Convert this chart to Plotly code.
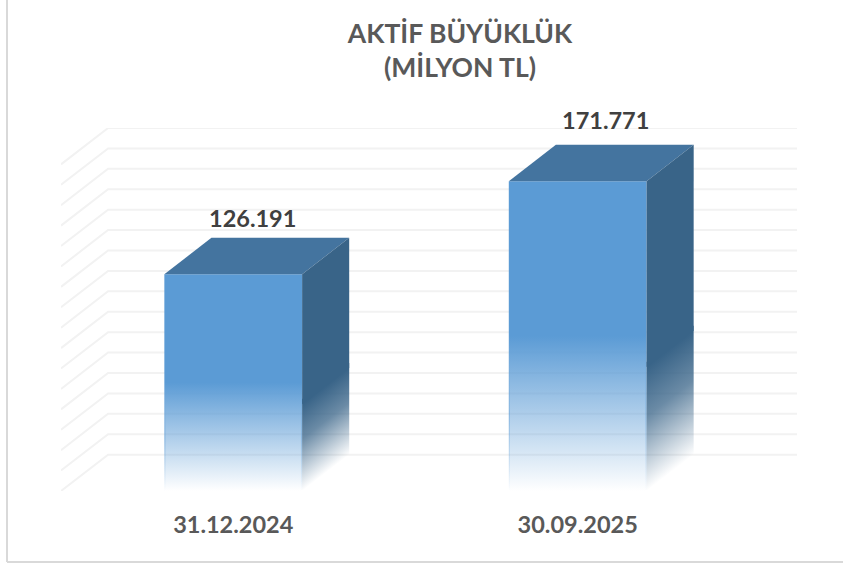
import plotly.graph_objects as go

# ---- data ----
categories = ["31.12.2024", "30.09.2025"]
values = [126191, 171771]
value_labels = ["126.191", "171.771"]
title_lines = ["AKTİF BÜYÜKLÜK", "(MİLYON TL)"]
grid_values = list(range(20000, 190000, 10000))

# ---- style / geometry ----
W, H = 843, 565
ML, MR, MT, MB = 61, 46, 128, 74
BAR_HALF = 0.2          # half bar width, category units
DEPTH_X = 0.1367        # 3D depth, category units
DEPTH_Y = 17800         # 3D depth, value units
Y_MIN = 20000
X_MIN = -0.5
X_MAX = 1.5 + DEPTH_X
FRONT = (91, 155, 213)
SIDE = (57, 100, 136)
TOP = "#44749f"
GRID = "#f2f2f2"
FADE = 0.5              # front face is solid above this height fraction
SIDE_FADE = 0.4         # side face is solid above this height fraction
OVERLAP = 2500          # fade columns reach this far under the solid part
EDGE_W = 0.0035         # faint edge line of the faded front face, category units
LABEL_SHIFT_X = [19, 28]
LABEL_SHIFT_Y = [20, 25]

px_per_x = (W - ML - MR) / (X_MAX - X_MIN)


def rgba(c, a):
    return f"rgba({c[0]},{c[1]},{c[2]},{a})"


fig = go.Figure()

# gridlines on walls
gx, gy = [], []
for g in grid_values:
    gx += [X_MIN, X_MIN + DEPTH_X, X_MAX, None]
    gy += [g, g + DEPTH_Y, g + DEPTH_Y, None]
fig.add_trace(go.Scatter(x=gx, y=gy, mode="lines", line=dict(color=GRID, width=2),
                         cliponaxis=False, hoverinfo="skip", showlegend=False))

for i, v in enumerate(values):
    x0, x1 = i - BAR_HALF, i + BAR_HALF
    mid = Y_MIN + (v - Y_MIN) * FADE
    side_mid = Y_MIN + (v - Y_MIN) * SIDE_FADE

    # front face, vertical fade
    fig.add_trace(go.Scatter(
        x=[x0, x1, x1, x0, x0], y=[Y_MIN, Y_MIN, v, v, Y_MIN], mode="lines",
        fill="toself", line=dict(width=0), hoverinfo="skip", showlegend=False,
        fillcolor=rgba(FRONT, 1),
        fillgradient=dict(type="vertical", start=Y_MIN, stop=v, colorscale=[
            [0, rgba(FRONT, 0)], [FADE, rgba(FRONT, 1)], [1, rgba(FRONT, 1)]]),
    ))

    # faint edge lines on the faded part of the front face
    for ex in (x0, x1 - EDGE_W):
        fig.add_trace(go.Scatter(
            x=[ex, ex + EDGE_W, ex + EDGE_W, ex, ex], y=[Y_MIN, Y_MIN, mid, mid, Y_MIN],
            mode="lines", fill="toself", line=dict(width=0), hoverinfo="skip", showlegend=False,
            fillcolor=rgba(FRONT, 0.3),
            fillgradient=dict(type="vertical", start=Y_MIN, stop=mid, colorscale=[
                [0, rgba(FRONT, 0)], [0.5, rgba(FRONT, 0.4)], [1, rgba(FRONT, 0)]]),
        ))

    # top face
    fig.add_trace(go.Scatter(
        x=[x0, x1, x1 + DEPTH_X, x0 + DEPTH_X, x0],
        y=[v, v, v + DEPTH_Y, v + DEPTH_Y, v], mode="lines", fill="toself",
        fillcolor=TOP, line=dict(width=0), hoverinfo="skip", showlegend=False))

    # side face: solid upper part
    fig.add_trace(go.Scatter(
        x=[x1, x1 + DEPTH_X, x1 + DEPTH_X, x1, x1],
        y=[side_mid, side_mid + DEPTH_Y, v + DEPTH_Y, v, side_mid], mode="lines", fill="toself",
        fillcolor=rgba(SIDE, 1), line=dict(width=0), hoverinfo="skip", showlegend=False))

    # side face: sheared fade, built from pixel-aligned columns
    px0 = ML + (x1 - X_MIN) * px_per_x
    px1 = ML + (x1 + DEPTH_X - X_MIN) * px_per_x
    edges = [px0] + [p for p in range(int(px0) + 1, int(px1) + 1)] + [px1]
    for a, b in zip(edges[:-1], edges[1:]):
        if b <= a:
            continue
        xa = X_MIN + (a - ML) / px_per_x
        xb = X_MIN + (b - ML) / px_per_x
        t = ((xa + xb) / 2 - x1) / DEPTH_X
        lo, hi = Y_MIN + t * DEPTH_Y, side_mid + t * DEPTH_Y
        top = hi + OVERLAP
        solid = (hi - lo) / (top - lo)
        fig.add_trace(go.Scatter(
            x=[xa, xb, xb, xa, xa], y=[lo, lo, top, top, lo], mode="lines", fill="toself",
            line=dict(width=0), hoverinfo="skip", showlegend=False,
            fillcolor=rgba(SIDE, 1),
            fillgradient=dict(type="vertical", start=lo, stop=top, colorscale=[
                [0, rgba(SIDE, 0)], [solid * 0.6, rgba(SIDE, 0.75)],
                [solid, rgba(SIDE, 1)], [1, rgba(SIDE, 1)]]),
        ))

# value labels
annotations = [
    dict(x=i, y=v + DEPTH_Y, text=f"<b>{value_labels[i]}</b>", showarrow=False,
         xshift=LABEL_SHIFT_X[i], yshift=LABEL_SHIFT_Y[i],
         font=dict(family="Lato", size=23.5, color="#404040"))
    for i, v in enumerate(values)
]

# chart frame
plot_w, plot_h = W - ML - MR, H - MT - MB
frame_x = (7 - ML) / plot_w
frame_y = (H - MB - 562) / plot_h
shapes = [
    dict(type="line", xref="paper", yref="paper", x0=frame_x, x1=frame_x,
         y0=frame_y, y1=(H - MB) / plot_h, line=dict(color="#d9d9d9", width=2)),
    dict(type="line", xref="paper", yref="paper", x0=frame_x, x1=(W - ML) / plot_w,
         y0=frame_y, y1=frame_y, line=dict(color="#d9d9d9", width=2)),
]

fig.update_layout(
    width=W, height=H, autosize=False,
    margin=dict(l=ML, r=MR, t=MT, b=MB, pad=0),
    paper_bgcolor="white", plot_bgcolor="white",
    showlegend=False,
    title=dict(text="<b>" + "<br>".join(title_lines) + "</b>", xref="paper", yref="container",
               x=(460 - ML) / plot_w, xanchor="center", y=1 - 43 / H, yanchor="middle",
               font=dict(family="Lato", size=26.5, color="#595959")),
    xaxis=dict(range=[X_MIN, X_MAX], tickmode="array", tickvals=[0, 1],
               ticktext=[f"<b>{c}</b>" for c in categories],
               tickfont=dict(family="Lato", size=23.5, color="#595959"),
               ticks="outside", ticklen=13, tickcolor="rgba(0,0,0,0)",
               showgrid=False, zeroline=False, showline=False, fixedrange=True),
    yaxis=dict(range=[Y_MIN, 180000 + DEPTH_Y], visible=False, fixedrange=True),
    annotations=annotations,
    shapes=shapes,
)

fig.write_html("out.html", config=dict(displayModeBar=False),
               post_script="document.body.style.margin='0';document.body.style.overflow='hidden';")
